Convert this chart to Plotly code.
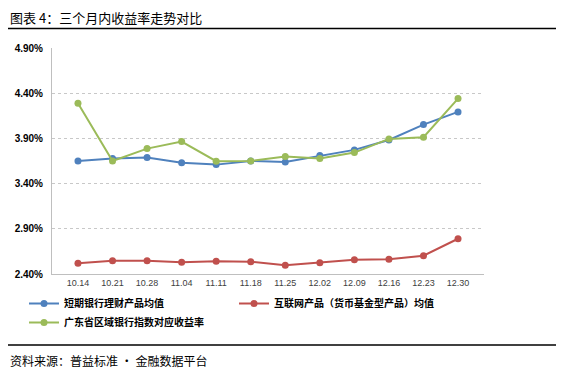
import plotly.graph_objects as go

categories = ["10.14", "10.21", "10.28", "11.04", "11.11", "11.18", "11.25",
              "12.02", "12.09", "12.16", "12.23", "12.30"]
bank_short = [3.651, 3.677, 3.688, 3.632, 3.610, 3.651, 3.640,
              3.710, 3.773, 3.883, 4.053, 4.193]
internet_mmf = [2.518, 2.547, 2.547, 2.529, 2.540, 2.536, 2.496,
                2.525, 2.558, 2.563, 2.602, 2.790]
guangdong_idx = [4.289, 3.651, 3.787, 3.865, 3.648, 3.651, 3.699,
                 3.677, 3.743, 3.894, 3.913, 4.340]
y_ticks = [2.40, 2.90, 3.40, 3.90, 4.40, 4.90]
y_tick_labels = [f"{v:.2f}%" for v in y_ticks]

series = [
    ("短期银行理财产品均值", bank_short, "#4F81BD", "legend"),
    ("互联网产品（货币基金型产品）均值", internet_mmf, "#C0504D", "legend2"),
    ("广东省区域银行指数对应收益率", guangdong_idx, "#9BBB59", "legend"),
]

cjk = "Noto Sans CJK SC"
fig = go.Figure()
for name, vals, color, lg in series:
    fig.add_trace(go.Scatter(
        x=categories, y=vals, name=name, mode="lines+markers",
        line=dict(color=color, width=2),
        marker=dict(color=color, size=7),
        legend=lg,
    ))

# page body has an 8px default margin: work in page pixels, offset by 8
OFF = 8
W, H = 568 - OFF, 373 - OFF
L, R, T, B = 52 - OFF, 484 - OFF, 48 - OFF, 274 - OFF
def px(x):
    return (x - OFF - L) / (R - L)
def py(y):
    return (B - (y - OFF)) / (B - T)

legend_font = dict(family=cjk, size=10, color="#000000", weight="bold")
fig.update_layout(
    width=W, height=H,
    margin=dict(l=L, r=W - R, t=T, b=H - B, autoexpand=False),
    paper_bgcolor="white", plot_bgcolor="white",
    showlegend=True,
    legend=dict(orientation="v", x=px(24), y=py(289), xanchor="left", yanchor="top",
                itemwidth=30, font=legend_font, tracegroupgap=0,
                bgcolor="rgba(0,0,0,0)", traceorder="normal"),
    legend2=dict(orientation="v", x=px(234), y=py(289), xanchor="left", yanchor="top",
                 itemwidth=30, font=legend_font, bgcolor="rgba(0,0,0,0)"),
    xaxis=dict(type="category", showgrid=False, showline=True, linecolor="#BFBFBF",
               linewidth=1, ticks="", tickfont=dict(family="Liberation Sans", size=9, color="#404040"),
               fixedrange=True, automargin=False),
    yaxis=dict(range=[2.40, 4.90], tickvals=y_ticks, ticktext=y_tick_labels,
               showgrid=True, gridcolor="#C8C8C8", griddash="dot", gridwidth=1,
               showline=True, linecolor="#BFBFBF", linewidth=1, zeroline=False,
               tickfont=dict(family="Liberation Sans", size=10, color="#000000", weight="bold"),
               ticklabelstandoff=6, automargin=False),
    shapes=[
        dict(type="line", xref="paper", yref="paper", x0=px(8), x1=px(556), y0=py(28.5), y1=py(28.5),
             line=dict(color="#000000", width=1.5)),
        dict(type="line", xref="paper", yref="paper", x0=px(8), x1=px(556), y0=py(345), y1=py(345),
             line=dict(color="#000000", width=1.5)),
    ],
    annotations=[
        dict(text="图表 4：三个月内收益率走势对比", xref="paper", yref="paper",
             x=px(8), y=py(17.5), xanchor="left", yanchor="middle", showarrow=False,
             font=dict(family=cjk, size=13, color="#000000")),
        dict(text="资料来源：普益标准 · 金融数据平台", xref="paper", yref="paper",
             x=px(8), y=py(360), xanchor="left", yanchor="middle", showarrow=False,
             font=dict(family=cjk, size=12, color="#000000")),
    ],
)

fig.write_html("out.html")
